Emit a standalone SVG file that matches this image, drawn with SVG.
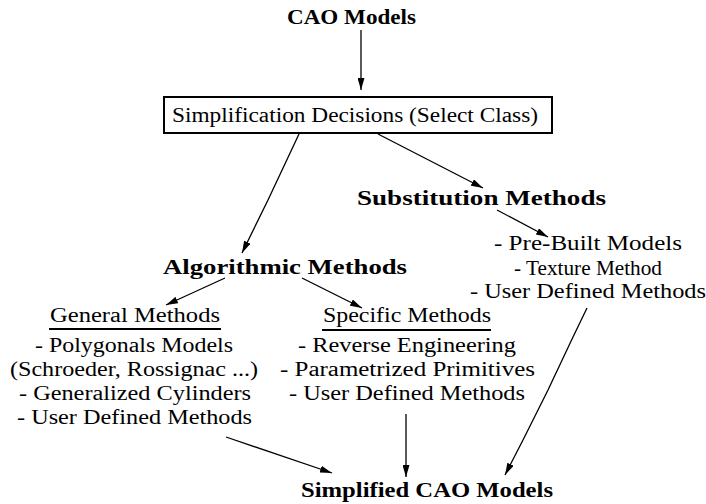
<svg xmlns="http://www.w3.org/2000/svg" width="706" height="504" viewBox="0 0 706 504">
<style>
text{font-family:"Liberation Serif","DejaVu Serif",serif;font-size:20px;fill:#000}
.b{font-weight:bold}
.c{stroke:#000;stroke-width:1.3;fill:none}
</style>
<defs>
<marker id="ah" viewBox="0 0 12 7" refX="12" refY="3.5" markerWidth="12" markerHeight="7" markerUnits="userSpaceOnUse" orient="auto">
<path d="M0,0 L12,3.5 L0,7 Z" fill="#000"/>
</marker>
</defs>
<rect width="706" height="504" fill="#fff"/>
<g id="cao">
<text class="b" x="287" y="24" textLength="129" lengthAdjust="spacingAndGlyphs">CAO Models</text>
</g>
<g id="decisions">
<rect x="164" y="97" width="388" height="36" fill="none" stroke="#000" stroke-width="2"/>
<text x="172" y="122" textLength="366" lengthAdjust="spacingAndGlyphs">Simplification Decisions (Select Class)</text>
</g>
<g id="substitution">
<text class="b" x="357" y="205" textLength="249" lengthAdjust="spacingAndGlyphs">Substitution Methods</text>
</g>
<g id="substitution-list">
<text x="494" y="250" textLength="188" lengthAdjust="spacingAndGlyphs">- Pre-Built Models</text>
<text x="514" y="275" textLength="148" lengthAdjust="spacingAndGlyphs">- Texture Method</text>
<text x="470" y="298" textLength="236" lengthAdjust="spacingAndGlyphs">- User Defined Methods</text>
</g>
<g id="algorithmic">
<text class="b" x="163" y="274" textLength="244" lengthAdjust="spacingAndGlyphs">Algorithmic Methods</text>
</g>
<g id="general">
<text x="50" y="322" textLength="170" lengthAdjust="spacingAndGlyphs">General Methods</text>
<line x1="49" y1="329" x2="221" y2="329" stroke="#000" stroke-width="2.2"/>
<text x="35" y="352" textLength="198" lengthAdjust="spacingAndGlyphs">- Polygonals Models</text>
<text x="10" y="376" textLength="248" lengthAdjust="spacingAndGlyphs">(Schroeder, Rossignac ...)</text>
<text x="19" y="400" textLength="232" lengthAdjust="spacingAndGlyphs">- Generalized Cylinders</text>
<text x="17" y="424" textLength="235" lengthAdjust="spacingAndGlyphs">- User Defined Methods</text>
</g>
<g id="specific">
<text x="323" y="322" textLength="168" lengthAdjust="spacingAndGlyphs">Specific Methods</text>
<line x1="322" y1="330" x2="491" y2="330" stroke="#000" stroke-width="2.2"/>
<text x="298" y="352" textLength="218" lengthAdjust="spacingAndGlyphs">- Reverse Engineering</text>
<text x="280" y="376" textLength="255" lengthAdjust="spacingAndGlyphs">- Parametrized Primitives</text>
<text x="289" y="400" textLength="236" lengthAdjust="spacingAndGlyphs">- User Defined Methods</text>
</g>
<g id="simplified">
<text class="b" x="301" y="497" textLength="252" lengthAdjust="spacingAndGlyphs">Simplified CAO Models</text>
</g>
<g id="connectors">
<line class="c" x1="361" y1="30" x2="361" y2="90" stroke-width="1.8" marker-end="url(#ah)"/>
<path class="c" d="M299,134 L268,200 L242,253" marker-end="url(#ah)"/>
<line class="c" x1="378" y1="134" x2="483" y2="188" marker-end="url(#ah)"/>
<line class="c" x1="497" y1="210" x2="548" y2="237" marker-end="url(#ah)"/>
<line class="c" x1="225" y1="278" x2="166" y2="305" marker-end="url(#ah)"/>
<line class="c" x1="302" y1="278" x2="362" y2="308" marker-end="url(#ah)"/>
<line class="c" x1="226" y1="437" x2="332" y2="473" marker-end="url(#ah)"/>
<line class="c" x1="406" y1="414" x2="406" y2="477" stroke-width="3.2" marker-end="url(#ah)"/>
<path class="c" d="M587,308 L573,337 L548,390 L523,440 L505,475" marker-end="url(#ah)"/>
</g>
</svg>
